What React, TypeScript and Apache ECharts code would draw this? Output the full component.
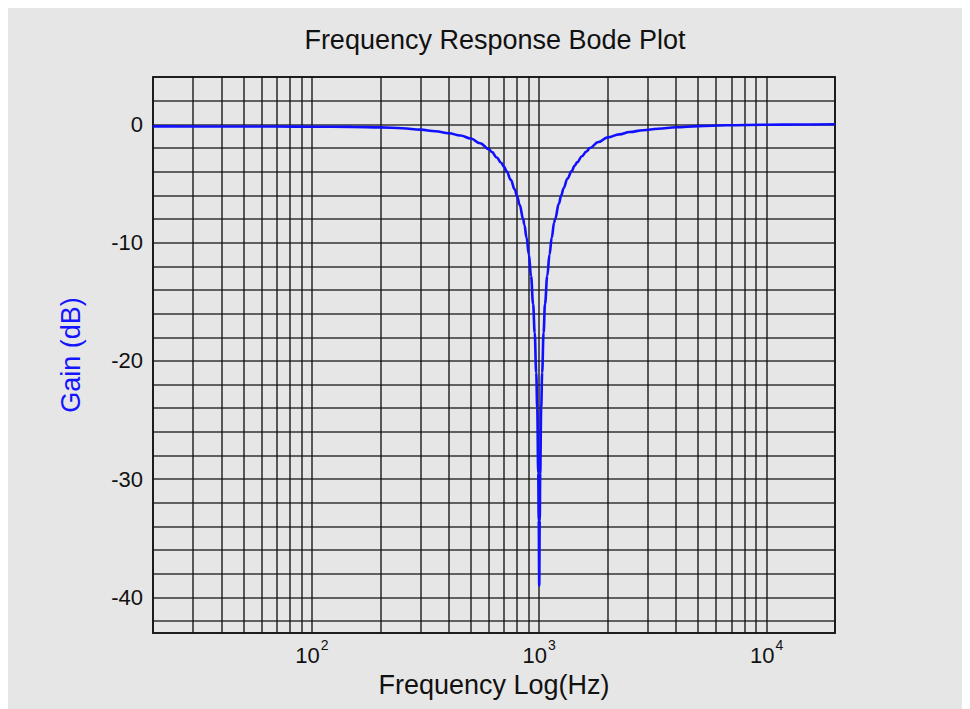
import React, { useEffect, useRef } from "react";
import * as echarts from "echarts";

// Frequency (Hz) and gain (dB)
const freqHz = [
  20, 40, 70, 100, 150, 200, 250, 300, 350, 400, 450, 500, 550, 600, 620, 650, 680, 700,
  720, 750, 780, 800, 820, 850, 860, 880, 900, 920, 940, 955, 970, 980, 990, 995, 1000,
  1005, 1010, 1020, 1030, 1045, 1060, 1085, 1110, 1135, 1163, 1175, 1220, 1250, 1280, 1330,
  1390, 1430, 1470, 1540, 1613, 1670, 1820, 2000, 2250, 2500, 2860, 3330, 4000, 5000, 6670,
  10000, 14000, 20000,
];
const gainDb = [
  -0.17, -0.18, -0.19, -0.2, -0.22, -0.26, -0.33, -0.45, -0.58, -0.75, -0.95, -1.2, -1.6,
  -2.1, -2.35, -2.8, -3.25, -3.6, -4.0, -4.7, -5.5, -6.1, -6.8, -8.0, -8.5, -9.6, -11.0,
  -12.8, -15.2, -17.6, -21.0, -24.0, -29.5, -33.5, -39.0, -33.5, -29.5, -24.0, -21.0, -17.6,
  -15.2, -12.8, -11.0, -9.6, -8.3, -8.0, -6.7, -6.0, -5.4, -4.6, -3.95, -3.5, -3.2, -2.7,
  -2.3, -2.0, -1.5, -1.1, -0.85, -0.65, -0.5, -0.38, -0.25, -0.15, -0.08, -0.04, -0.02, 0,
];

// Axis ranges and grid
const xRange = [20, 20000];
const yRange = [-43, 4];
const yLabelValues = [0, -10, -20, -30, -40];
const xMajorExponents = [2, 3, 4];
const minorGridHz = [
  30, 40, 50, 60, 70, 80, 90, 200, 300, 400, 500, 600, 700, 800, 900, 2000, 3000, 4000,
  5000, 6000, 7000, 8000, 9000,
];
const gridDb = [
  -42, -40, -38, -36, -34, -32, -30, -28, -26, -24, -22, -20, -18, -16, -14, -12, -10, -8,
  -6, -4, -2, 0, 2,
];

const titleText = "Frequency Response Bode Plot";
const xName = "Frequency Log(Hz)";
const yName = "Gain (dB)";

const FONT = "Liberation Sans, Arial, sans-serif";
const GRID_COLOR = "rgba(20,20,20,0.85)";

export default function App() {
  const ref = useRef<HTMLDivElement>(null);

  useEffect(() => {
    if (!ref.current) return;
    const chart = echarts.init(ref.current, null, { renderer: "svg" });
    const gridLineStyle = { color: GRID_COLOR, width: 1.6, type: "solid" as const };

    const option = {
      animation: false,
      backgroundColor: "#e6e6e6",
      title: {
        text: titleText,
        left: 487,
        top: 18,
        textAlign: "center",
        padding: 0,
        textStyle: { fontSize: 27, fontWeight: "normal", color: "#111", fontFamily: FONT },
      },
      grid: {
        left: 145,
        top: 69,
        width: 682,
        height: 556,
        show: true,
        borderColor: "#1e1e1e",
        borderWidth: 1.8,
        backgroundColor: "transparent",
        containLabel: false,
      },
      xAxis: {
        type: "log",
        logBase: 10,
        min: xRange[0],
        max: xRange[1],
        name: xName,
        nameLocation: "middle",
        nameGap: 38,
        nameTextStyle: { fontSize: 27, color: "#111", fontFamily: FONT },
        axisLine: { show: false },
        axisTick: { show: false },
        splitLine: { show: true, lineStyle: gridLineStyle },
        axisLabel: {
          margin: 5,
          color: "#111",
          fontFamily: FONT,
          formatter: (v: number) => {
            const e = Math.round(Math.log10(v));
            if (xMajorExponents.includes(e) && Math.abs(v - Math.pow(10, e)) < 1e-6 * v) {
              return `{b|10}{s|${e}}`;
            }
            return "";
          },
          rich: {
            b: { fontSize: 22, lineHeight: 28, verticalAlign: "bottom", fontFamily: FONT, color: "#111" },
            s: { fontSize: 14, lineHeight: 14, verticalAlign: "top", fontFamily: FONT, color: "#111", padding: [0, 0, 0, 1] },
          },
        },
      },
      yAxis: {
        type: "value",
        min: yRange[0],
        max: yRange[1],
        interval: 1,
        name: yName,
        nameLocation: "middle",
        nameRotate: 90,
        nameGap: 69,
        nameTextStyle: { fontSize: 27, color: "#1414ff", fontFamily: FONT },
        axisLine: { show: false },
        axisTick: { show: false },
        splitLine: { show: false },
        axisLabel: {
          margin: 10,
          fontSize: 22,
          color: "#111",
          fontFamily: FONT,
          formatter: (v: number) => (yLabelValues.includes(v) ? String(v) : ""),
        },
      },
      series: [
        {
          type: "line",
          data: [],
          z: 1,
          silent: true,
          markLine: {
            silent: true,
            symbol: ["none", "none"],
            label: { show: false },
            lineStyle: gridLineStyle,
            emphasis: { disabled: true },
            data: [
              ...minorGridHz.map((f) => ({ xAxis: f })),
              ...gridDb.map((d) => ({ yAxis: d })),
            ],
          },
        },
        {
          type: "line",
          z: 5,
          data: freqHz.map((f, i) => [f, gainDb[i]]),
          showSymbol: false,
          smooth: 0.4,
          smoothMonotone: "x",
          lineStyle: { color: "#1010ff", width: 2.6 },
          silent: true,
        },
      ],
    };

    chart.setOption(option as any);
    return () => chart.dispose();
  }, []);

  return <div ref={ref} style={{ width: 962, height: 701 }} />;
}
